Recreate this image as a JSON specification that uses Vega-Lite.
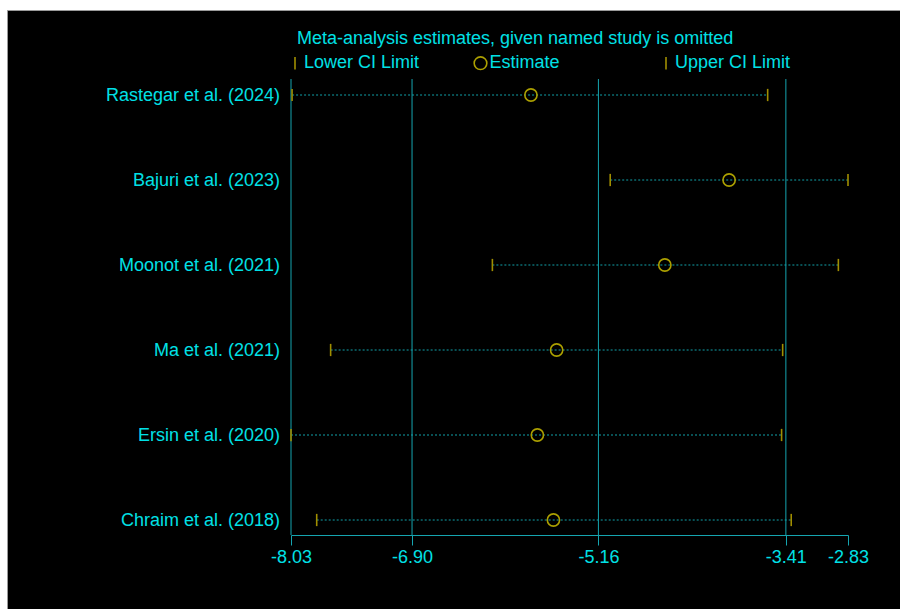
{
  "$schema": "https://vega.github.io/schema/vega-lite/v6.json",
  "width": 894,
  "height": 600,
  "autosize": {"type": "none"},
  "padding": {"left": 7, "top": 10, "right": 0, "bottom": 0},
  "background": "white",
  "config": {
    "view": {"fill": "black", "stroke": "#9a9a9a", "strokeWidth": 1},
    "font": "Liberation Sans",
    "axisX": {
      "grid": false,
      "domain": true,
      "domainColor": "#15a5b0",
      "domainWidth": 1,
      "ticks": true,
      "tickColor": "#15a5b0",
      "tickSize": 10,
      "tickWidth": 1,
      "labelColor": "#00e0e6",
      "labelFontSize": 18,
      "labelFont": "Liberation Sans",
      "labelBaseline": "alphabetic",
      "labelPadding": 17,
      "labelFlush": false,
      "labelOverlap": false,
      "zindex": 1
    }
  },
  "title": {
    "text": "Meta-analysis estimates, given named study is omitted",
    "anchor": "start",
    "frame": "group",
    "orient": "top",
    "offset": 0,
    "dx": 290,
    "dy": 52,
    "baseline": "alphabetic",
    "fontSize": 18,
    "fontWeight": "normal",
    "color": "#00e0e6",
    "font": "Liberation Sans"
  },
  "data": {
    "values": [
      {"study": "Rastegar et al. (2024)", "row": 6, "Lower CI Limit": -8.02, "Estimate": -5.79, "Upper CI Limit": -3.58},
      {"study": "Bajuri et al. (2023)", "row": 5, "Lower CI Limit": -5.05, "Estimate": -3.94, "Upper CI Limit": -2.83},
      {"study": "Moonot et al. (2021)", "row": 4, "Lower CI Limit": -6.15, "Estimate": -4.54, "Upper CI Limit": -2.92},
      {"study": "Ma et al. (2021)", "row": 3, "Lower CI Limit": -7.66, "Estimate": -5.55, "Upper CI Limit": -3.44},
      {"study": "Ersin et al. (2020)", "row": 2, "Lower CI Limit": -8.03, "Estimate": -5.73, "Upper CI Limit": -3.45},
      {"study": "Chraim et al. (2018)", "row": 1, "Lower CI Limit": -7.79, "Estimate": -5.58, "Upper CI Limit": -3.36}
    ]
  },
  "layer": [
    {
      "data": {"values": [{"tick": -8.03}, {"tick": -6.9}, {"tick": -5.16}, {"tick": -3.41}]},
      "mark": {"type": "rule", "color": "#15a5b0", "strokeWidth": 1},
      "encoding": {
        "x": {
          "field": "tick",
          "type": "quantitative",
          "scale": {"domain": [-8.03, -2.83], "range": [284, 841], "nice": false, "zero": false},
          "axis": {"values": [-8.03, -6.9, -5.16, -3.41, -2.83], "labelExpr": "'-' + format(abs(datum.value), '.2f')", "orient": "bottom", "offset": -75, "title": null}
        },
        "y": {
          "datum": 6.188,
          "type": "quantitative",
          "scale": {"domain": [-0.0588, 7], "nice": false, "zero": false},
          "axis": null
        },
        "y2": {"datum": 0.8235}
      }
    },
    {
      "mark": {"type": "rule", "color": "#10a0a8", "strokeWidth": 1, "strokeDash": [2, 2]},
      "encoding": {
        "x": {
          "field": "Lower CI Limit",
          "type": "quantitative",
          "axis": {"values": [-8.03, -6.9, -5.16, -3.41, -2.83], "labelExpr": "'-' + format(abs(datum.value), '.2f')", "orient": "bottom", "offset": -75, "title": null}
        },
        "x2": {"field": "Upper CI Limit"},
        "y": {"field": "row", "type": "quantitative", "axis": null}
      }
    },
    {
      "transform": [{"fold": ["Lower CI Limit", "Estimate", "Upper CI Limit"], "as": ["key", "value"]}],
      "mark": {"type": "point", "filled": false, "strokeWidth": 1.6, "size": 150, "opacity": 1},
      "encoding": {
        "x": {
          "field": "value",
          "type": "quantitative",
          "axis": {"values": [-8.03, -6.9, -5.16, -3.41, -2.83], "labelExpr": "'-' + format(abs(datum.value), '.2f')", "orient": "bottom", "offset": -75, "title": null}
        },
        "y": {"field": "row", "type": "quantitative", "axis": null},
        "shape": {
          "field": "key",
          "type": "nominal",
          "scale": {"domain": ["Lower CI Limit", "Estimate", "Upper CI Limit"], "range": ["M0,-1L0,1", "circle", "M0,-1L0,1"]},
          "legend": {
            "title": null,
            "orient": "none",
            "legendX": 279,
            "legendY": 44,
            "direction": "horizontal",
            "gridAlign": "all",
            "columnPadding": 50.5,
            "symbolSize": 160,
            "symbolStrokeWidth": 1.6,
            "symbolFillColor": "transparent",
            "labelFontSize": 18,
            "labelColor": "#00e0e6",
            "labelFont": "Liberation Sans",
            "labelOffset": 0,
            "labelLimit": 300,
            "padding": 0
          }
        },
        "color": {
          "field": "key",
          "type": "nominal",
          "scale": {"domain": ["Lower CI Limit", "Estimate", "Upper CI Limit"], "range": ["#a08e00", "#aca000", "#a08e00"]},
          "legend": {
            "title": null,
            "orient": "none",
            "legendX": 279,
            "legendY": 44,
            "direction": "horizontal",
            "gridAlign": "all",
            "columnPadding": 50.5,
            "symbolSize": 160,
            "symbolStrokeWidth": 1.6,
            "symbolFillColor": "transparent",
            "labelFontSize": 18,
            "labelColor": "#00e0e6",
            "labelFont": "Liberation Sans",
            "labelOffset": 0,
            "labelLimit": 300,
            "padding": 0
          }
        }
      }
    },
    {
      "mark": {"type": "text", "align": "right", "baseline": "alphabetic", "dx": -11, "dy": 6, "fontSize": 18, "color": "#00e0e6", "font": "Liberation Sans"},
      "encoding": {
        "x": {
          "datum": -8.03,
          "type": "quantitative",
          "axis": {"values": [-8.03, -6.9, -5.16, -3.41, -2.83], "labelExpr": "'-' + format(abs(datum.value), '.2f')", "orient": "bottom", "offset": -75, "title": null}
        },
        "y": {"field": "row", "type": "quantitative", "axis": null},
        "text": {"field": "study", "type": "nominal"}
      }
    }
  ]
}
